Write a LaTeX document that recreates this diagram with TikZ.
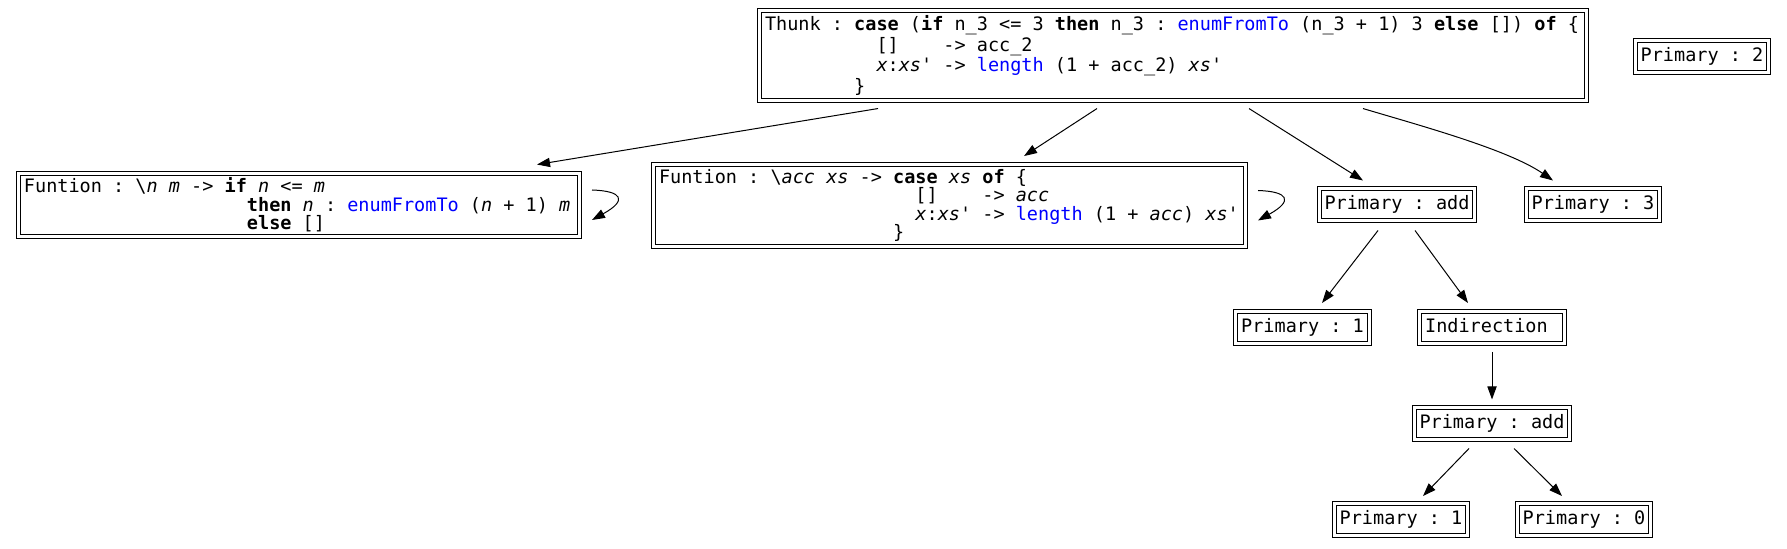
\documentclass[tikz,border=0pt]{standalone}
\usepackage{fontspec}
\setmonofont{DejaVu Sans Mono}[ItalicFont={DejaVu Sans Mono Oblique},BoldFont={DejaVu Sans Mono Bold},BoldItalicFont={DejaVu Sans Mono Bold Oblique}]
\usepackage{tikz}
\usetikzlibrary{arrows.meta}
\definecolor{fnblue}{RGB}{0,0,255}
\newcommand{\kw}[1]{\textbf{#1}}
\newcommand{\fn}[1]{\textcolor{fnblue}{#1}}
\newcommand{\va}[1]{\textit{#1}}
\newcommand{\gap}[1]{\hspace*{\dimexpr#1\fontcharwd\font`x\relax}}
\newcommand{\codefont}{\ttfamily\fontsize{9.26}{9.2}\selectfont\frenchspacing}
\tikzset{
    cell/.style={draw, double, double distance=1.5pt, line width=0.5pt, outer sep=1.25pt, font=\codefont},
    code/.style={cell, align=left, inner xsep=2.75pt, inner ysep=2.4pt,
        execute at begin node={\spaceskip=\fontdimen2\font\xspaceskip=\fontdimen2\font\relax}},
    prim/.style={cell, inner xsep=2.6pt, inner ysep=3.5pt, text height=7pt, text depth=2pt},
    ptr/.style={-{Triangle[length=6.5pt,width=4.6pt]}, line width=0.5pt}
}

\begin{document}
\begin{tikzpicture}[x=0.5pt, y=-0.5pt]
    \useasboundingbox (0,0) rectangle (1787,549);
    % heap cells
    \node[code, text width=408pt] (thunk) at (1173,55.5) {Thunk : \kw{case} (\kw{if} n\_3 <= 3 \kw{then} n\_3 : \fn{enumFromTo} (n\_3 + 1) 3 \kw{else} []) \kw{of} \{\\
        \gap{10}[]\gap{4}-> acc\_2\\
        \gap{10}\va{x}:\va{xs'} -> \fn{length} (1 + acc\_2) \va{xs'}\\
        \gap{8}\}};
    \node[prim] (prim2) at (1702,57) {Primary : 2};
    \node[code, text width=275pt] (fun1) at (299,205) {Funtion : \textbackslash\va{n} \va{m} -> \kw{if} \va{n} <= \va{m}\\
        \gap{20}\kw{then} \va{n} : \fn{enumFromTo} (\va{n} + 1) \va{m}\\
        \gap{20}\kw{else} []};
    \node[code, text width=290.5pt] (fun2) at (949.5,205.5) {Funtion : \textbackslash\va{acc} \va{xs} -> \kw{case} \va{xs} \kw{of} \{\\
        \gap{23}[]\gap{4}-> \va{acc}\\
        \gap{23}\va{x}:\va{xs'} -> \fn{length} (1 + \va{acc}) \va{xs'}\\
        \gap{21}\}};
    \node[prim] (add1) at (1397,205) {Primary : add};
    \node[prim] (prim3) at (1593,205) {Primary : 3};
    \node[prim] (one1) at (1302.5,327.5) {Primary : 1};
    \node[prim] (indir) at (1492,327.5) {Indirection\gap{1}};
    \node[prim] (add2) at (1492,424) {Primary : add};
    \node[prim] (one2) at (1401,519.5) {Primary : 1};
    \node[prim] (zero) at (1584,519.5) {Primary : 0};
    % pointers
    \draw[ptr] ([shift={(-295,6)}]thunk.south) -- ([shift={(238,-6)}]fun1.north);
    \draw[ptr] ([shift={(-76,6)}]thunk.south) -- ([shift={(74.5,-6)}]fun2.north);
    \draw[ptr] ([shift={(76,6)}]thunk.south) -- ([shift={(-34,-6)}]add1.north);
    \draw[ptr] ([shift={(190,6)}]thunk.south) .. controls +(57,17) and +(-45,-31) .. ([shift={(-40,-6)}]prim3.north);
    \foreach \f in {fun1,fun2}
        \draw[ptr] ([shift={(10,-15)}]\f.east) .. controls +(30,1) and +(36,-20) .. ([shift={(10,15)}]\f.east);
    \draw[ptr] ([shift={(-19,7)}]add1.south) -- ([shift={(19.5,-6)}]one1.north);
    \draw[ptr] ([shift={(18,7)}]add1.south) -- ([shift={(-24,-6)}]indir.north);
    \draw[ptr] ([shift={(0,6)}]indir.south) -- ([shift={(0,-6)}]add2.north);
    \draw[ptr] ([shift={(-23,6)}]add2.south) -- ([shift={(22,-5)}]one2.north);
    \draw[ptr] ([shift={(22,6)}]add2.south) -- ([shift={(-22,-5)}]zero.north);
\end{tikzpicture}
\end{document}
